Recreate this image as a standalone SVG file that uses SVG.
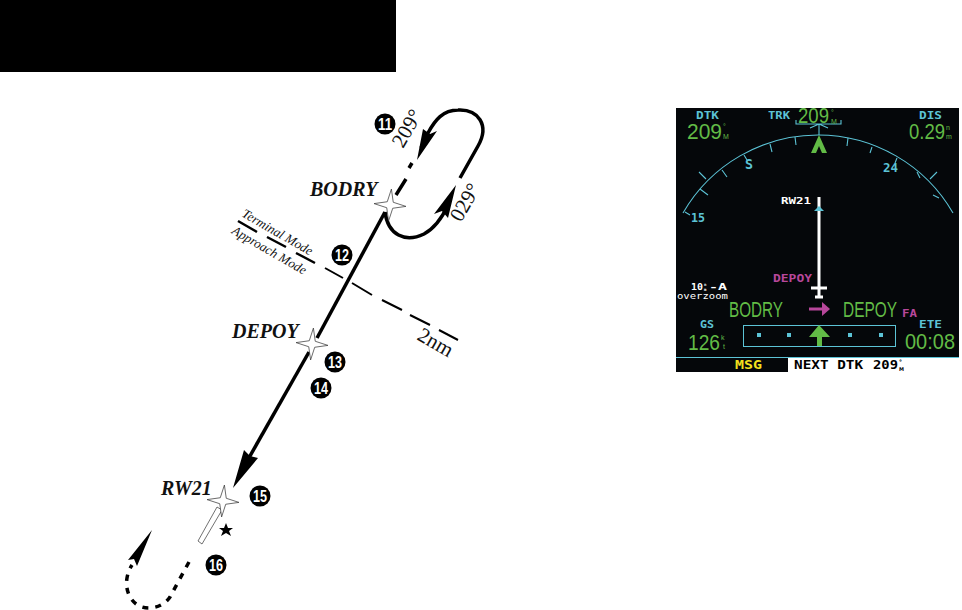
<svg xmlns="http://www.w3.org/2000/svg" width="962" height="610" viewBox="0 0 962 610">
<style>
.ln{fill:none;stroke:#000;stroke-width:3.5}
.d{fill:none;stroke:#000;stroke-width:2}
.tm{fill:none;stroke:#000;stroke-width:2.5}
.ah{fill:#000;stroke:none}
.star{fill:#fff;stroke:#333;stroke-width:.7}
.nm{font:italic bold 20px "Liberation Serif",serif;fill:#111}
.lb{font:21px "Liberation Serif",serif;fill:#111}
.sm{font:italic 13px "Liberation Serif",serif;fill:#111}
.c{font:bold 17px "Liberation Sans",sans-serif;fill:#fff}
.cy{fill:#5cc3d6;font:bold 11px "DejaVu Sans Mono","Liberation Mono",monospace}
.g{fill:#62bb46;font:22px "Liberation Sans",sans-serif}
.gs{fill:#62bb46;font:7px "Liberation Sans",sans-serif}
.w{fill:#fff;font:bold 9px "DejaVu Sans Mono","Liberation Mono",monospace}
.m{fill:#b8479b;font:bold 11px "DejaVu Sans Mono","Liberation Mono",monospace}
.t{stroke:#5cc3d6;stroke-width:1.1;fill:none}
.b{font:bold 12px "DejaVu Sans Mono",monospace}
</style>
<defs>
<polygon id="st" points="0,-16 3,-3 16,0 3,3 0,16 -3,3 -16,0 -3,-3"/>
</defs>
<rect id="header" x="0" y="0" width="396" height="72" fill="#000"/>

<g id="connectors">
<path class="ln" d="M385,212L317,338"/>
<path class="ln" d="M309,352L246,463"/>
<polygon class="ah" points="233,488 244,450 250,456 258,458"/>
<path class="ln" d="M396,195L406,179M409,168L412,163"/>
<path class="ln" d="M460,178L478,146C490,125 478,109 458,110C443,110 435,120 428,133L421,148"/>
<polygon class="ah" points="417,160 423,129 430,134 437,131"/>
<path class="ln" d="M385,212C388,235 405,243 424,234C435,228 442,218 448,205"/>
<polygon class="ah" points="456,185 434,214 442,211 448,218"/>
<path class="d" d="M325,268L343,278M352,283L372,295M382,300L402,310M410,315L430,325M439,330L458,340"/>
<path class="tm" d="M238,221L257,232M267,237L286,247M296,253L315,263"/>
<path class="ln" stroke-dasharray="6 7" d="M189,562L170,597C164,606 152,610 142,607C130,603 125,590 127,578C128,572 130,568 132,565"/>
<polygon class="ah" points="152,530 128,560 134,559 137,566"/>
</g>

<g id="bodry"><use href="#st" class="star" transform="translate(390,205) rotate(5)"/><text class="nm" x="310" y="196">BODRY</text></g>
<g id="depoy"><use href="#st" class="star" transform="translate(312,344) rotate(5)"/><text class="nm" x="232" y="338">DEPOY</text></g>
<g id="rw21"><polygon points="198,541 202,544 222,510 217,507" fill="#fff" stroke="#333" stroke-width=".7"/><use href="#st" class="star" transform="translate(223,501) rotate(5)"/><text class="nm" x="161" y="495">RW21</text>
<polygon fill="#000" points="226,523 228,528 233,528 229,531 231,536 226,533 221,536 223,531 219,528 224,528"/></g>

<g id="labels">
<text class="lb" transform="translate(403,149) rotate(-60)">209°</text>
<text class="lb" transform="translate(461,223) rotate(-60)">029°</text>
<text class="lb" transform="translate(416,339) rotate(30)">2nm</text>
<text class="sm" transform="translate(241,216) rotate(30)">Terminal Mode</text>
<text class="sm" transform="translate(231,233) rotate(30)">Approach Mode</text>
</g>

<g id="n11"><circle cx="385" cy="124" r="10.5"/><text class="c" x="378" y="130" textLength="14" lengthAdjust="spacingAndGlyphs">11</text></g>
<g id="n12"><circle cx="342" cy="255" r="10.5"/><text class="c" x="335" y="261" textLength="14" lengthAdjust="spacingAndGlyphs">12</text></g>
<g id="n13"><circle cx="335" cy="362" r="10.5"/><text class="c" x="328" y="368" textLength="14" lengthAdjust="spacingAndGlyphs">13</text></g>
<g id="n14"><circle cx="321" cy="388" r="10.5"/><text class="c" x="314" y="394" textLength="14" lengthAdjust="spacingAndGlyphs">14</text></g>
<g id="n15"><circle cx="260" cy="496" r="10.5"/><text class="c" x="253" y="502" textLength="14" lengthAdjust="spacingAndGlyphs">15</text></g>
<g id="n16"><circle cx="216" cy="565" r="10.5"/><text class="c" x="209" y="571" textLength="14" lengthAdjust="spacingAndGlyphs">16</text></g>

<g id="screen">
<rect x="676" y="108" width="283" height="264" fill="#05070a"/>
<path class="t" d="M683,213A155.8,155.8 0 0 1 953,213"/>
<path class="t" d="M685,212L690,215M700,189L708,195M699,172L706,179M722,170L727,177M744,155L747,160M770,144L772,152M795,137L796,145M848,138L847,146M872,147L870,153M897,158L895,163M917,172L920,178M937,172L930,179M933,195L939,198"/>
<path class="t" d="M796,120V124H841V120M819,124V135M819,124L810,128M819,124L828,128"/>
<polygon fill="#62bb46" points="819,135 827,153 822,153 819,146 816,153 811,153"/>
<text class="cy" x="696" y="119" textLength="23" lengthAdjust="spacingAndGlyphs">DTK</text>
<text class="g" x="687" y="139" textLength="35" lengthAdjust="spacingAndGlyphs">209</text>
<text class="gs" x="723" y="129">°</text><text class="gs" x="723" y="139">M</text>
<text class="cy" x="768" y="119" textLength="22" lengthAdjust="spacingAndGlyphs">TRK</text>
<text class="g" x="798" y="123" textLength="31" lengthAdjust="spacingAndGlyphs">209</text>
<text class="gs" x="831" y="115">°</text><text class="gs" x="831" y="124">M</text>
<text class="cy" x="919" y="119" textLength="23" lengthAdjust="spacingAndGlyphs">DIS</text>
<text class="g" x="909" y="139" textLength="36" lengthAdjust="spacingAndGlyphs">0.29</text>
<text class="gs" x="946" y="130">n</text><text class="gs" x="946" y="139">m</text>
<text class="cy" x="745" y="169" style="font-size:14px" textLength="8" lengthAdjust="spacingAndGlyphs">S</text>
<text class="cy" x="883" y="172" style="font-size:12px" textLength="15" lengthAdjust="spacingAndGlyphs">24</text>
<text class="cy" x="691" y="222" style="font-size:12px" textLength="14" lengthAdjust="spacingAndGlyphs">15</text>
<text class="w" x="781" y="204" textLength="30" lengthAdjust="spacingAndGlyphs">RW21</text>
<rect x="817.5" y="197" width="3" height="86" fill="#fff"/>
<polygon fill="#5cc3d6" points="819,206 824,211 814,211"/>
<text class="m" x="773" y="282" textLength="39" lengthAdjust="spacingAndGlyphs">DEPOY</text>
<path d="M819,283V298M811,288H827M815,297H823" stroke="#fff" stroke-width="3" fill="none"/>
<text class="w" x="691" y="290" textLength="12" lengthAdjust="spacingAndGlyphs">10</text>
<text class="w" x="704" y="286" style="font-size:4px">n</text><text class="w" x="704" y="291" style="font-size:4px">m</text>
<text class="w" x="709" y="290" textLength="18" lengthAdjust="spacingAndGlyphs">-A</text>
<text class="w" x="677" y="299" style="font-weight:normal" textLength="51" lengthAdjust="spacingAndGlyphs">overzoom</text>
<text class="g" x="729" y="317" textLength="54" lengthAdjust="spacingAndGlyphs">BODRY</text>
<path d="M809,309H825" stroke="#b8479b" stroke-width="3"/><polygon fill="#b8479b" points="830,309 822,302 822,316"/>
<text class="g" x="843" y="317" textLength="54" lengthAdjust="spacingAndGlyphs">DEPOY</text>
<text class="m" x="902" y="317" style="font-size:10px" textLength="15" lengthAdjust="spacingAndGlyphs">FA</text>
<text class="cy" x="700" y="328" textLength="14" lengthAdjust="spacingAndGlyphs">GS</text>
<text class="g" x="688" y="350" textLength="32" lengthAdjust="spacingAndGlyphs">126</text>
<text class="gs" x="721" y="340">k</text><text class="gs" x="723" y="349">t</text>
<rect x="743.5" y="325.5" width="152" height="21" fill="none" stroke="#5cc3d6"/>
<path d="M757,333h4v4h-4zM787,333h4v4h-4zM848,333h4v4h-4zM879,333h4v4h-4z" fill="#5cc3d6"/>
<polygon fill="#62bb46" points="819,325 830,337 822,337 822,346 817,346 817,337 809,337"/>
<text class="cy" x="919" y="328" textLength="23" lengthAdjust="spacingAndGlyphs">ETE</text>
<text class="g" x="905" y="349" textLength="50" lengthAdjust="spacingAndGlyphs">00:08</text>
<rect x="676" y="357" width="283" height="1" fill="#5cc3d6"/>
<rect x="788" y="358" width="171" height="14" fill="#fff"/>
<text class="b" x="735" y="369" fill="#f4e11e" textLength="27" lengthAdjust="spacingAndGlyphs">MSG</text>
<text class="b" x="794" y="369" fill="#000" textLength="69" lengthAdjust="spacingAndGlyphs">NEXT DTK</text>
<text class="b" x="873" y="369" fill="#000" textLength="25" lengthAdjust="spacingAndGlyphs">209</text>
<text x="899" y="364" fill="#000" style="font:bold 6px 'DejaVu Sans',sans-serif">°</text>
<text x="899" y="371" fill="#000" style="font:bold 5px 'DejaVu Sans',sans-serif">M</text>
</g>
</svg>
